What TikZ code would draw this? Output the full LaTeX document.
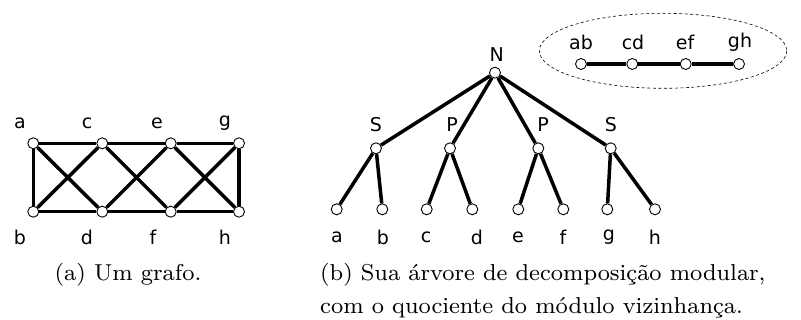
\documentclass[tikz,border=0pt]{standalone}
\usepackage{fontspec}
\newfontfamily\lblfont{DejaVu Sans}
\newfontfamily\capfont{lmroman8-regular}[Extension=.otf]
\begin{document}
\begin{tikzpicture}[x=1pt,y=-1pt,
  vtx/.style={circle,draw,fill=white,minimum size=11pt,inner sep=0pt,line width=0.9pt},
  edge/.style={line width=3.5pt},
  lbl/.style={font=\lblfont\fontsize{19}{21}\selectfont,inner sep=0pt},
  captext/.style={font=\capfont\fontsize{23}{27}\selectfont,inner sep=0pt,anchor=west}]
\useasboundingbox (0,0) rectangle (801,320);

% (a) the graph
\node[vtx] (a) at (33.3,143.3) {};
\node[vtx] (c) at (102.3,143.3) {};
\node[vtx] (e) at (170.7,143.3) {};
\node[vtx] (g) at (239,143.3) {};
\node[vtx] (b) at (33.3,211.7) {};
\node[vtx] (d) at (102.3,211.7) {};
\node[vtx] (f) at (170.7,211.7) {};
\node[vtx] (h) at (239,211.7) {};
\foreach \u/\v in {a/c,c/e,e/g,b/d,d/f,f/h,a/b,g/h,a/d,b/c,c/f,d/e,e/h,f/g}
  \draw[edge] (\u) -- (\v);
\node[lbl] (la) at (20,123) {a};
\node[lbl] (lc) at (87,123) {c};
\node[lbl] (le) at (157,123) {e};
\node[lbl] (lg) at (225,123) {g};
\node[lbl] (lb) at (20,237) {b};
\node[lbl] (ld) at (87,237) {d};
\node[lbl] (lf) at (153,237) {f};
\node[lbl] (lh) at (225,237) {h};
\node[captext,anchor=center] (capa) at (128,275) {(a) Um grafo.};

% (b) modular decomposition tree
\node[vtx] (N) at (495,72.7) {};
\node[vtx] (S1) at (376,148.3) {};
\node[vtx] (P1) at (450,148.3) {};
\node[vtx] (P2) at (538.3,148.3) {};
\node[vtx] (S2) at (610.7,148.3) {};
\node[vtx] (ta) at (336.7,209.3) {};
\node[vtx] (tb) at (382.3,209.3) {};
\node[vtx] (tc) at (426.7,209.3) {};
\node[vtx] (td) at (472.3,209.3) {};
\node[vtx] (te) at (518.3,209.3) {};
\node[vtx] (tf) at (563.3,209.3) {};
\node[vtx] (tg) at (607.3,209.3) {};
\node[vtx] (th) at (655,209.3) {};
\foreach \u/\v in {N/S1,N/P1,N/P2,N/S2,S1/ta,S1/tb,P1/tc,P1/td,P2/te,P2/tf,S2/tg,S2/th}
  \draw[edge] (\u) -- (\v);
\node[lbl] (lN) at (496.7,55) {N};
\node[lbl] (lS1) at (376,125) {S};
\node[lbl] (lP1) at (452,125) {P};
\node[lbl] (lP2) at (543,125) {P};
\node[lbl] (lS2) at (611,125) {S};
\node[lbl] (lta) at (337,237) {a};
\node[lbl] (ltb) at (383,237) {b};
\node[lbl] (ltc) at (426,237) {c};
\node[lbl] (ltd) at (477,237) {d};
\node[lbl] (lte) at (518,237) {e};
\node[lbl] (ltf) at (563,237) {f};
\node[lbl] (ltg) at (609,237) {g};
\node[lbl] (lth) at (655,237) {h};

% quotient of the neighbourhood module
\draw[line width=0.6pt,dash pattern=on 3pt off 2.5pt] (663,50.8) ellipse [x radius=123.7,y radius=37.5];
\node[vtx] (qab) at (581,64) {};
\node[vtx] (qcd) at (632.3,64) {};
\node[vtx] (qef) at (685.7,64) {};
\node[vtx] (qgh) at (739,64) {};
\draw[edge] (qab) -- (qcd);
\draw[edge] (qcd) -- (qef);
\draw[edge] (qef) -- (qgh);
\node[lbl] (lab) at (581,42) {ab};
\node[lbl] (lcd) at (633,42) {cd};
\node[lbl] (lef) at (685,42) {ef};
\node[lbl] (lgh) at (740,42) {gh};

\node[captext] (capb1) at (320,275) {(b) Sua árvore de decomposição modular,};
\node[captext] (capb2) at (320,308) {com o quociente do módulo vizinhança.};
\end{tikzpicture}
\end{document}
